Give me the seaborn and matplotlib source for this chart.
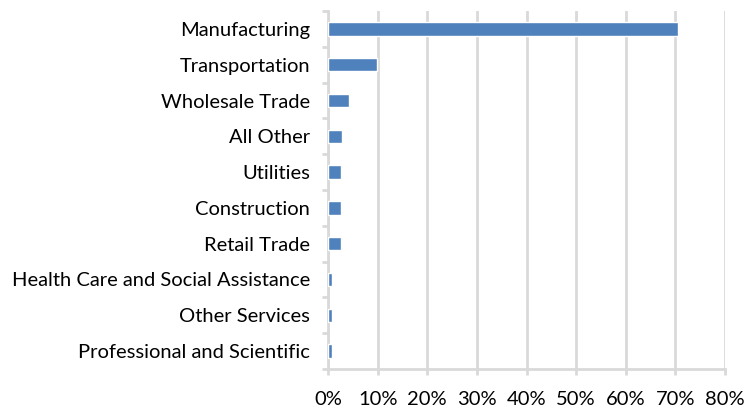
import matplotlib
matplotlib.use("Agg")
import matplotlib.pyplot as plt
import seaborn as sns
import pandas as pd
import numpy as np
from matplotlib.ticker import FixedLocator, FuncFormatter

industries = [
    "Manufacturing",
    "Transportation",
    "Wholesale Trade",
    "All Other",
    "Utilities",
    "Construction",
    "Retail Trade",
    "Health Care and Social Assistance",
    "Other Services",
    "Professional and Scientific",
]
shares = [70.6, 9.8, 4.2, 2.9, 2.6, 2.6, 2.6, 0.9, 0.9, 0.9]
x_ticks = [0, 10, 20, 30, 40, 50, 60, 70, 80]

df = pd.DataFrame({"industry": industries, "share": shares})

sns.set_theme(style="white")
plt.rcParams["font.family"] = ["Lato", "DejaVu Sans"]

fig = plt.figure(figsize=(7.45, 4.15), dpi=100)
ax = fig.add_axes([328 / 745, 1 - 369 / 415, (725 - 328) / 745, (369 - 11) / 415])

grid_color = "#d9d9d9"
sns.barplot(data=df, y="industry", x="share", order=industries, color="#4F81BD",
            width=0.37, saturation=1, ax=ax, zorder=3)

ax.set_xlim(0, 80)
ax.set_ylim(len(industries) - 0.5, -0.5)
ax.set_xticks(x_ticks)
ax.xaxis.set_major_formatter(FuncFormatter(lambda v, p: f"{v:.0f}%"))
ax.grid(axis="x", color=grid_color, linewidth=2, zorder=0)
ax.set_axisbelow(True)
ax.set_xlabel("")
ax.set_ylabel("")

for side in ["top", "right"]:
    ax.spines[side].set_visible(False)
for side in ["left", "bottom"]:
    ax.spines[side].set_color(grid_color)
    ax.spines[side].set_linewidth(2)

label_size = 14.5
ax.tick_params(axis="x", which="major", direction="out", length=4.5, width=2,
               color=grid_color, pad=11, labelsize=label_size, labelcolor="#000000")
ax.tick_params(axis="y", which="major", length=0, pad=13, labelsize=label_size,
               labelcolor="#000000")
ax.yaxis.set_minor_locator(FixedLocator(np.arange(-0.5, len(industries), 1.0)))
ax.tick_params(axis="y", which="minor", direction="out", length=4.5, width=2,
               color=grid_color)
ax.tick_params(axis="both", bottom=True, left=True)
ax.tick_params(axis="y", which="minor", left=True)

fig.savefig("out.png", dpi=100)
